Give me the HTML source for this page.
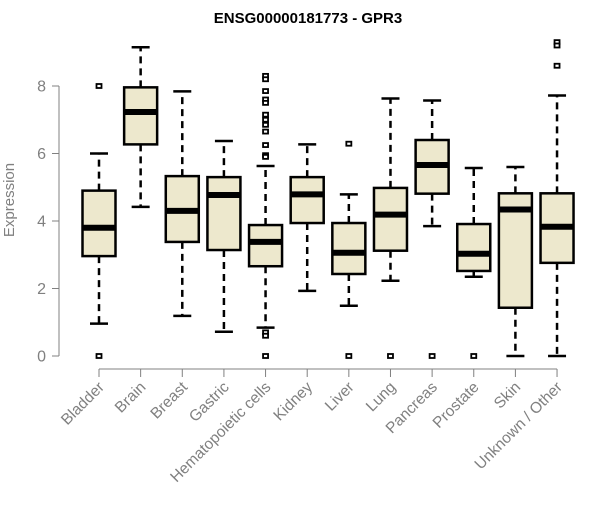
<!DOCTYPE html>
<html><head><meta charset="utf-8"><style>
body{margin:0;background:#fff}
svg text{font-family:"Liberation Sans",Arial,sans-serif}
</style></head><body>
<svg id="chart" width="600" height="500" viewBox="0 0 600 500" xmlns="http://www.w3.org/2000/svg">
<text x="308" y="23" text-anchor="middle" font-size="15" font-weight="bold">ENSG00000181773 - GPR3</text>
<text transform="translate(14,200) rotate(-90)" text-anchor="middle" font-size="15" fill="#808080">Expression</text>
<g id="axes"></g>
<g id="boxes"></g>
</svg>
<script>
const categories=["Bladder","Brain","Breast","Gastric","Hematopoietic cells","Kidney","Liver","Lung","Pancreas","Prostate","Skin","Unknown / Other"];
const whiskerLow=[0.96,4.42,1.19,0.72,0.84,1.93,1.49,2.23,3.85,2.35,0,0];
const q1=[2.96,6.27,3.38,3.14,2.66,3.94,2.43,3.12,4.81,2.52,1.43,2.76];
const medians=[3.8,7.23,4.3,4.77,3.38,4.79,3.06,4.19,5.66,3.03,4.34,3.83];
const q3=[4.9,7.96,5.33,5.3,3.88,5.3,3.94,4.98,6.4,3.91,4.82,4.82];
const whiskerHigh=[6.0,9.15,7.84,6.37,5.63,6.27,4.79,7.63,7.57,5.57,5.6,7.72];
const outliers=[[8,0],[],[],[],[8.3,8.2,7.85,7.6,7.5,7.15,7.0,6.85,6.65,6.25,5.95,5.9,0.7,0.6,0],[],[6.29,0],[0],[0],[0],[],[9.3,9.2,8.6]];
const yTicks=[0,2,4,6,8];
const NS="http://www.w3.org/2000/svg";
const y=v=>356-33.75*v;
const x=i=>99+i*41.64;
function mk(tag,attrs,parent){const e=document.createElementNS(NS,tag);for(const k in attrs)e.setAttribute(k,attrs[k]);parent.appendChild(e);return e;}
const axes=document.getElementById('axes'),boxes=document.getElementById('boxes');
let ya=mk('line',{x1:59,x2:59,y1:y(0),y2:y(8),stroke:'#808080'},axes);


yTicks.forEach(t=>{
 let tl=mk('line',{x1:52,x2:59,y1:y(t),y2:y(t),stroke:'#808080'},axes);
 
 
 let tx=mk('text',{x:46,y:y(t)+5.5,'text-anchor':'end','font-size':16,fill:'#808080'},axes);
 tx.textContent=t;
 
 
});
let xa=mk('line',{x1:x(0),x2:x(categories.length-1),y1:369,y2:369,stroke:'#808080'},axes);


categories.forEach((c,i)=>{
 const cx=x(i);
 let tl=mk('line',{x1:cx,x2:cx,y1:369,y2:377,stroke:'#808080'},axes);
 
 
 let tx=mk('text',{transform:`translate(${cx+6},${388}) rotate(-45)`,'text-anchor':'end','font-size':15.5,fill:'#808080'},axes);
 tx.textContent=c;
 
 
 const g=mk('g',{},boxes);
 
 
 mk('line',{x1:cx,x2:cx,y1:y(q3[i]),y2:y(whiskerHigh[i]),stroke:'#000','stroke-width':2.5,'stroke-dasharray':'7,5'},g);
 mk('line',{x1:cx,x2:cx,y1:y(q1[i]),y2:y(whiskerLow[i]),stroke:'#000','stroke-width':2.5,'stroke-dasharray':'7,5'},g);
 mk('line',{x1:cx-9,x2:cx+9,y1:y(whiskerHigh[i]),y2:y(whiskerHigh[i]),stroke:'#000','stroke-width':2.5},g);
 mk('line',{x1:cx-9,x2:cx+9,y1:y(whiskerLow[i]),y2:y(whiskerLow[i]),stroke:'#000','stroke-width':2.5},g);
 mk('rect',{x:cx-16.5,y:y(q3[i]),width:33,height:y(q1[i])-y(q3[i]),fill:'#EDE8CD',stroke:'#000','stroke-width':2.5},g);
 mk('line',{x1:cx-16.5,x2:cx+16.5,y1:y(medians[i]),y2:y(medians[i]),stroke:'#000','stroke-width':6},g);
 outliers[i].forEach(o=>{
  let r=mk('rect',{x:cx-2.5,y:y(o)-2,width:5,height:4,fill:'#fff',stroke:'#000','stroke-width':1.8},g);
  
  
 });
});
</script>
</body></html>
